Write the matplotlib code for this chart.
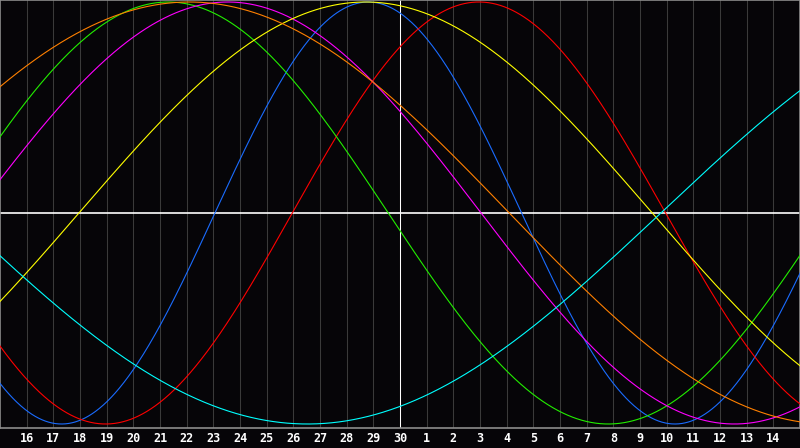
import numpy as np
import matplotlib
matplotlib.use("Agg")
import matplotlib.pyplot as plt

# chart days (x runs from day 15 to day 45, "today" is day 30)
day_first = 15
day_last = 45
today = 30
tick_days = list(range(16, 45))
tick_labels = [str(d) for d in range(16, 31)] + [str(d) for d in range(1, 15)]

# biorhythm cycles: length in days and the chart day where each curve rises through zero
cycle_names = ["Physical", "Emotional", "Intellectual", "Intuitive",
               "Aesthetic", "Awareness", "Spiritual"]
cycle_days = [23, 28, 33, 38, 43, 48, 53]
rising_zero = [23.06, 25.96, 13.06, 14.04, 17.96, 10.1, 39.78]
cycle_colors = ["#1a6cff", "#ff0000", "#22ee00", "#ff00ff",
                "#ffff00", "#ff8000", "#00ffff"]

bg = "#060508"
fig = plt.figure(figsize=(8, 4.48), dpi=100, facecolor=bg)
ax = fig.add_axes([0, 20 / 448, 1, 428 / 448], facecolor=bg)

for d in tick_days:
    ax.axvline(d, color="#3a3a3a", lw=0.75, zorder=1)
ax.axvline(today, color="white", lw=0.75, zorder=2)
ax.axhline(0, color="white", lw=1.2, zorder=2)

days = np.linspace(day_first, day_last, 1200)
for name, period, z, col in zip(cycle_names, cycle_days, rising_zero, cycle_colors):
    ax.plot(days, np.sin(2 * np.pi * (days - z) / period), color=col,
            lw=0.8, label=name, zorder=3)

ax.set_xlim(day_first, day_last)
ax.set_ylim(-215 / 211, 213 / 211)
ax.set_yticks([])
ax.set_xticks(tick_days)
ax.set_xticklabels(tick_labels, color="white", fontsize=8.5, fontweight="bold",
                   family="DejaVu Sans Mono")
ax.tick_params(axis="x", length=0, pad=3)
for s in ax.spines.values():
    s.set_color("#8c8c8c")
    s.set_linewidth(1.2)

fig.savefig("out.png", dpi=100, facecolor=bg)
